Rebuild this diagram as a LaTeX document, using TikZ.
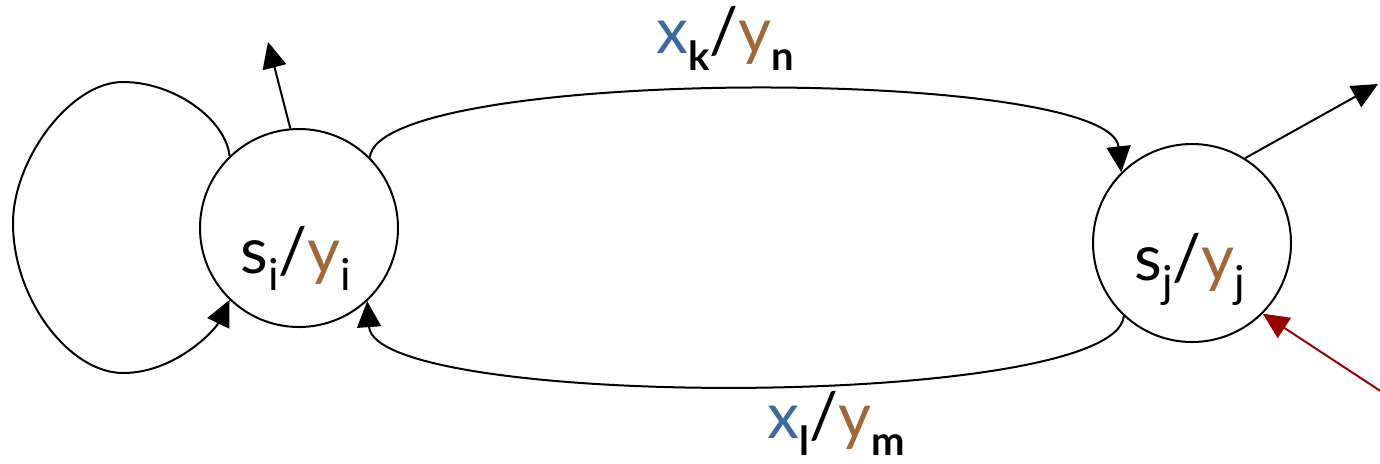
\documentclass[tikz,border=0pt]{standalone}
\usepackage{fontspec}
\setmainfont{Lato}
\usetikzlibrary{arrows.meta}
\definecolor{xblue}{HTML}{3A6A9E}
\definecolor{ybrown}{HTML}{A0683A}
\definecolor{dred}{HTML}{990000}
\newcommand{\lsub}[1]{\raisebox{-8.5pt}{\fontsize{22pt}{22pt}\selectfont #1}}
\newcommand{\bsub}[1]{\raisebox{-8.5pt}{\fontsize{20pt}{20pt}\selectfont\bfseries #1}}
\begin{document}
\begin{tikzpicture}[x=0.5pt,y=-0.5pt,line width=1pt,
  >={Triangle[length=13pt,width=12pt]},
  state/.style={circle, draw, minimum size=99pt, inner sep=0pt, line width=1pt},
  lbl/.style={anchor=base, inner sep=0pt, font=\fontsize{32pt}{32pt}\selectfont}]
\useasboundingbox (0,0) rectangle (1380,463);
\node[state] (si) at (299,228) {};
\node[state] (sj) at (1192,243) {};
\node[lbl] (ti) at (296,273) {s\lsub{i}/\textcolor{ybrown}{y}\lsub{i}};
\node[lbl] (tj) at (1190,280) {s\lsub{j}/\textcolor{ybrown}{y}\lsub{j}};
\node[lbl] (lk) at (725,53) {\textcolor{xblue}{x}\bsub{k}/\textcolor{ybrown}{y}\bsub{n}};
\node[lbl] (ll) at (836,438) {\textcolor{xblue}{x}\bsub{l}/\textcolor{ybrown}{y}\bsub{m}};
\coordinate (outi) at (268,42);
\coordinate (outj) at (1378,84);
\coordinate (inj) at (1382,392);
\draw[->] (si.95) -- (outi);
\draw[->] (sj.58) -- (outj);
\draw[->, dred] (inj) -- (sj.-45);
\draw[->] (si.45) .. controls (380,66) and (1110,66) .. (sj.135);
\draw[->] (sj.-133) .. controls (1115,410) and (375,410) .. (si.-47);
\draw[->] (si.134) .. controls (226,120) and (175,82) .. (123,82)
  .. controls (70,82) and (13,160) .. (13,223)
  .. controls (13,300) and (70,373) .. (123,373)
  .. controls (175,373) and (215,330) .. (si.-134);
\end{tikzpicture}
\end{document}
